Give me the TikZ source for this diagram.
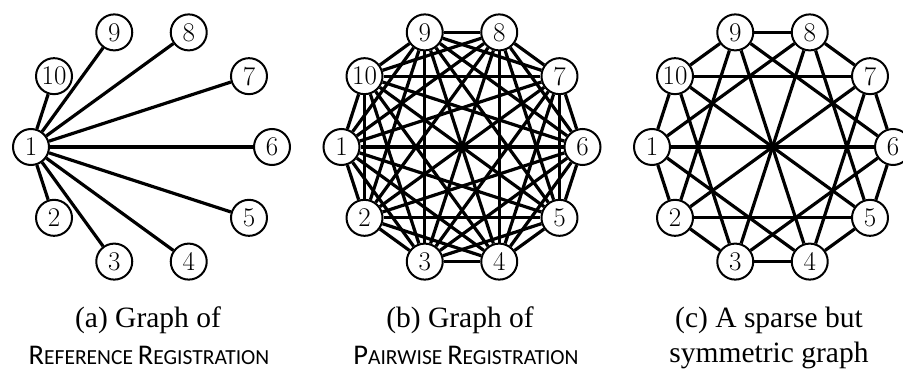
\documentclass[tikz,border=0pt]{standalone}
\usepackage{fontspec}
\newfontfamily\capserif{Liberation Serif}
\newfontfamily\capsans{Carlito}
\newcommand{\bigsc}{\fontsize{28.5}{28.5}\selectfont}
\newcommand{\smallsc}{\fontsize{21.5}{21.5}\selectfont}
\begin{document}
\begin{tikzpicture}[x=1pt,y=-1pt,
  vtx/.style={circle,draw,line width=2pt,fill=white,minimum size=36pt,inner sep=0pt,font=\fontsize{27}{27}\selectfont},
  edge/.style={line width=3.2pt},
  capone/.style={anchor=base,inner sep=0pt,font=\capserif\fontsize{29.5}{29.5}\selectfont},
  captwo/.style={anchor=base,inner sep=0pt,font=\capsans}]
\useasboundingbox (0,0) rectangle (903,371);
\foreach \g/\cx in {a/151.5,b/462,c/772.5}{
  \foreach \k in {1,...,10}{
    \pgfmathsetmacro\ang{180-36*(\k-1)}
    \node[vtx] (\g\k) at ([shift={(\cx,147)}]\ang:120.5) {\k};
  }
}
% (a) reference registration
\foreach \k in {2,...,10}{\draw[edge] (a1) -- (a\k);}
% (b) pairwise registration (complete graph)
\foreach \i in {1,...,9}{
  \pgfmathtruncatemacro\nxt{\i+1}
  \foreach \j in {\nxt,...,10}{\draw[edge] (b\i) -- (b\j);}
}
% (c) sparse symmetric graph
\foreach \i in {1,...,10}{
  \pgfmathtruncatemacro\ja{mod(\i,10)+1}
  \pgfmathtruncatemacro\jb{mod(\i+2,10)+1}
  \draw[edge] (c\i) -- (c\ja);
  \draw[edge] (c\i) -- (c\jb);
}
\foreach \i in {1,...,5}{
  \pgfmathtruncatemacro\jc{\i+5}
  \draw[edge] (c\i) -- (c\jc);
}
% captions
\node[capone] (capa1) at (148,328) {(a) Graph of};
\node[captwo] (capa2) at (149,365) {\bigsc R\smallsc EFERENCE \bigsc R\smallsc EGISTRATION};
\node[capone] (capb1) at (460,328) {(b) Graph of};
\node[captwo] (capb2) at (466,365) {\bigsc P\smallsc AIRWISE \bigsc R\smallsc EGISTRATION};
\node[capone] (capc1) at (769,328) {(c) A sparse but};
\node[capone] (capc2) at (769,363) {symmetric graph};
\end{tikzpicture}
\end{document}
